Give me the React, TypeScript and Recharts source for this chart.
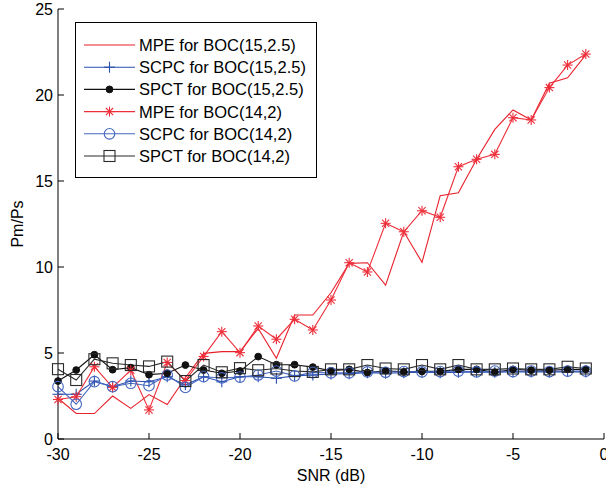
import React from 'react';
import { LineChart, Line, XAxis, YAxis, Legend, Label } from 'recharts';

const snr = [-30, -29, -28, -27, -26, -25, -24, -23, -22, -21, -20, -19, -18, -17, -16, -15, -14, -13, -12, -11, -10, -9, -8, -7, -6, -5, -4, -3, -2, -1];

const mpe15 = [2.37, 1.48, 1.48, 2.5, 1.78, 2.58, 2.0, 3.56, 4.98, 5.08, 5.08, 6.43, 4.69, 7.21, 7.21, 8.5, 10.21, 10.25, 8.95, 12.05, 10.27, 14.15, 14.32, 16.26, 18.0, 19.13, 18.55, 20.68, 21.0, 22.33];
const scpc15 = [2.6, 2.6, 3.37, 3.04, 3.37, 3.33, 3.62, 3.15, 3.62, 3.33, 3.62, 3.62, 3.53, 3.67, 3.72, 3.78, 3.8, 3.85, 3.82, 3.85, 3.88, 3.85, 3.88, 3.9, 3.88, 3.9, 3.9, 3.9, 3.92, 3.9];
const spct15 = [3.37, 4.01, 4.9, 4.03, 4.15, 3.74, 3.82, 4.3, 4.01, 3.82, 3.95, 4.79, 4.32, 4.32, 4.18, 3.97, 4.05, 3.86, 3.97, 3.9, 3.93, 3.93, 4.05, 4.05, 3.88, 4.05, 4.0, 4.0, 4.05, 4.05];
const mpe14 = [2.3, 2.46, 4.2, 3.0, 4.0, 1.69, 4.45, 3.4, 4.8, 6.24, 5.02, 6.57, 5.8, 6.96, 6.34, 8.08, 10.25, 9.71, 12.54, 12.05, 13.27, 12.89, 15.83, 16.26, 16.55, 18.68, 18.55, 20.43, 21.74, 22.38];
const scpc14 = [3.04, 2.02, 3.33, 3.04, 3.24, 3.1, 3.72, 3.0, 3.62, 3.55, 3.6, 3.72, 3.95, 3.67, 3.86, 3.85, 3.85, 3.9, 3.88, 3.92, 3.9, 3.92, 3.95, 3.9, 3.95, 3.92, 3.95, 3.92, 3.95, 3.95];
const spct14 = [4.06, 3.43, 4.64, 4.4, 4.3, 4.22, 4.5, 3.37, 4.3, 3.88, 4.12, 4.0, 4.1, 3.95, 3.9, 4.05, 4.05, 4.3, 4.1, 4.05, 4.3, 4.05, 4.3, 4.05, 4.05, 4.1, 4.05, 4.05, 4.2, 4.1];

const xTicks = [-30, -25, -20, -15, -10, -5, 0];
const yTicks = [0, 5, 10, 15, 20, 25];

const seriesNames = {
  mpe15: 'MPE for BOC(15,2.5)',
  scpc15: 'SCPC for BOC(15,2.5)',
  spct15: 'SPCT for BOC(15,2.5)',
  mpe14: 'MPE for BOC(14,2)',
  scpc14: 'SCPC for BOC(14,2)',
  spct14: 'SPCT for BOC(14,2)',
};

const data = snr.map((x, i) => ({
  x,
  mpe15: mpe15[i],
  scpc15: scpc15[i],
  spct15: spct15[i],
  mpe14: mpe14[i],
  scpc14: scpc14[i],
  spct14: spct14[i],
}));

const FONT = '"Liberation Sans", Arial, Helvetica, sans-serif';

type Kind = 'none' | 'plus' | 'dot' | 'star' | 'circle' | 'square';

const styles: Record<string, { color: string; kind: Kind }> = {
  mpe15: { color: '#e8212b', kind: 'none' },
  scpc15: { color: '#2a4fae', kind: 'plus' },
  spct15: { color: '#111111', kind: 'dot' },
  mpe14: { color: '#ee2e3a', kind: 'star' },
  scpc14: { color: '#4466c0', kind: 'circle' },
  spct14: { color: '#2a2a2a', kind: 'square' },
};

const order = ['mpe15', 'scpc15', 'spct15', 'mpe14', 'scpc14', 'spct14'];

function Marker({ kind, cx, cy, color }: { kind: Kind; cx: number; cy: number; color: string }) {
  if (kind === 'none' || cx == null || cy == null) return <g />;
  if (kind === 'plus') {
    const r = 5.5;
    return (
      <g stroke={color} strokeWidth={1.1}>
        <line x1={cx - r} y1={cy} x2={cx + r} y2={cy} />
        <line x1={cx} y1={cy - r} x2={cx} y2={cy + r} />
      </g>
    );
  }
  if (kind === 'star') {
    const r = 5;
    const d = r * 0.72;
    return (
      <g stroke={color} strokeWidth={1.1}>
        <line x1={cx - r} y1={cy} x2={cx + r} y2={cy} />
        <line x1={cx} y1={cy - r} x2={cx} y2={cy + r} />
        <line x1={cx - d} y1={cy - d} x2={cx + d} y2={cy + d} />
        <line x1={cx - d} y1={cy + d} x2={cx + d} y2={cy - d} />
      </g>
    );
  }
  if (kind === 'dot') return <circle cx={cx} cy={cy} r={3.4} fill={color} stroke={color} />;
  if (kind === 'circle') return <circle cx={cx} cy={cy} r={5.3} fill="none" stroke={color} strokeWidth={1.1} />;
  return <rect x={cx - 5.5} y={cy - 5.5} width={11} height={11} fill="none" stroke={color} strokeWidth={1.1} />;
}

function LegendBox(props: any) {
  const payload: any[] = (props.payload || []).slice();
  payload.sort((a, b) => order.indexOf(a.dataKey) - order.indexOf(b.dataKey));
  const w = 242;
  const h = 156;
  return (
    <svg width={w} height={h} style={{ display: 'block' }}>
      <rect x={0.5} y={0.5} width={w - 1} height={h - 1} fill="#fff" stroke="#000" strokeWidth={1} />
      {payload.map((p, i) => {
        const st = styles[p.dataKey];
        const y = 23 + 22.2 * i;
        return (
          <g key={p.dataKey}>
            <line x1={9} y1={y} x2={60} y2={y} stroke={st.color} strokeWidth={1.1} />
            <Marker kind={st.kind} cx={34.5} cy={y} color={st.color} />
            <text x={64} y={y + 6} fontFamily={FONT} fontSize={16.5} fill="#000">
              {p.value}
            </text>
          </g>
        );
      })}
    </svg>
  );
}

const BottomTick = (p: any) => (
  <g>
    <line x1={p.x} x2={p.x} y1={p.y} y2={p.y - 6} stroke="#000" />
    <text x={p.x} y={p.y + 21} textAnchor="middle" fontFamily={FONT} fontSize={16} fill="#000">
      {p.payload.value}
    </text>
  </g>
);
const TopTick = (p: any) => <line x1={p.x} x2={p.x} y1={p.y} y2={p.y + 6} stroke="#000" />;
const LeftTick = (p: any) => (
  <g>
    <line x1={p.x} x2={p.x + 6} y1={p.y} y2={p.y} stroke="#000" />
    <text x={p.x - 5} y={p.y + 6} textAnchor="end" fontFamily={FONT} fontSize={16} fill="#000">
      {p.payload.value}
    </text>
  </g>
);
const RightTick = (p: any) => <line x1={p.x} x2={p.x - 6} y1={p.y} y2={p.y} stroke="#000" />;

export default function App() {
  return (
    <div style={{ position: 'absolute', left: 0, top: 0, width: 606, height: 487, background: '#fff', overflow: 'hidden' }}>
      <LineChart width={608} height={487} data={data} margin={{ top: 9, right: 4, bottom: 0, left: 0 }}>
        <XAxis
          xAxisId="b"
          dataKey="x"
          type="number"
          domain={[-30, 0]}
          ticks={xTicks}
          tickSize={0}
          tickMargin={0}
          tickLine={false}
          axisLine={{ stroke: '#000' }}
          tick={BottomTick}
          height={48}
        >
          <Label
            content={(lp: any) => {
              const vb = lp.viewBox || {};
              return (
                <text x={vb.x + vb.width / 2} y={vb.y + 42} textAnchor="middle" fontFamily={FONT} fontSize={16} fill="#000">
                  SNR (dB)
                </text>
              );
            }}
          />
        </XAxis>
        <XAxis
          xAxisId="t"
          orientation="top"
          dataKey="x"
          type="number"
          domain={[-30, 0]}
          ticks={xTicks}
          tickSize={0}
          tickMargin={0}
          tickLine={false}
          axisLine={{ stroke: '#000' }}
          tick={TopTick}
          height={0}
        />
        <YAxis
          yAxisId="l"
          type="number"
          domain={[0, 25]}
          ticks={yTicks}
          tickSize={0}
          tickMargin={0}
          tickLine={false}
          axisLine={{ stroke: '#000' }}
          tick={LeftTick}
          width={58}
        >
          <Label
            content={(lp: any) => {
              const vb = lp.viewBox || {};
              const cx = 17;
              const cy = vb.y + vb.height / 2;
              return (
                <text x={cx} y={cy} transform={`rotate(-90 ${cx} ${cy})`} textAnchor="middle" dominantBaseline="central" fontFamily={FONT} fontSize={16} fill="#000">
                  Pm/Ps
                </text>
              );
            }}
          />
        </YAxis>
        <YAxis
          yAxisId="r"
          orientation="right"
          type="number"
          domain={[0, 25]}
          ticks={yTicks}
          tickSize={0}
          tickMargin={0}
          tickLine={false}
          axisLine={{ stroke: '#000' }}
          tick={RightTick}
          width={0}
        />
        <Legend
          layout="vertical"
          align="center"
          verticalAlign="middle"
          content={LegendBox}
          wrapperStyle={{ position: 'absolute', left: 75, top: 22, width: 242, height: 156 }}
        />
        {order.map((k) => {
          const st = styles[k];
          return (
            <Line
              key={k}
              xAxisId="b"
              yAxisId="l"
              type="linear"
              dataKey={k}
              name={(seriesNames as any)[k]}
              stroke={st.color}
              strokeWidth={1.1}
              isAnimationActive={false}
              dot={
                st.kind === 'none'
                  ? false
                  : (dp: any) => <Marker key={`${k}-${dp.index}`} kind={st.kind} cx={dp.cx} cy={dp.cy} color={st.color} />
              }
              activeDot={false}
            />
          );
        })}
      </LineChart>
    </div>
  );
}
